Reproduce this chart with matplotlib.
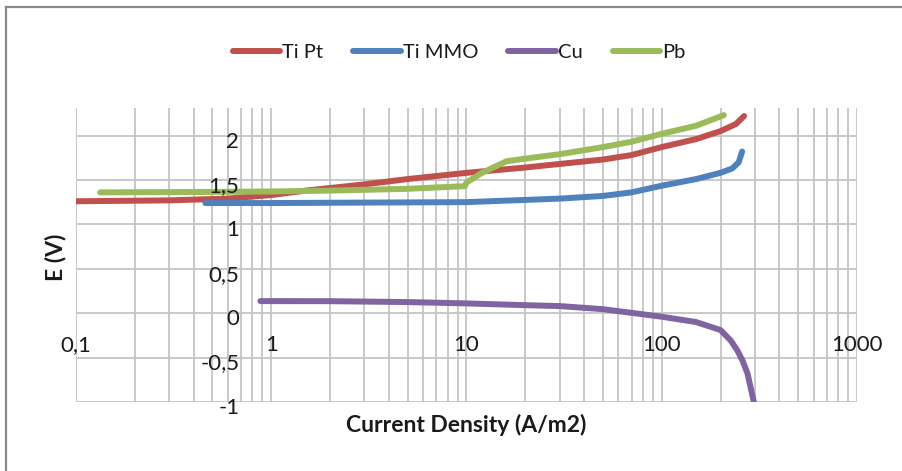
import matplotlib
matplotlib.use("Agg")
import matplotlib.pyplot as plt
from matplotlib.lines import Line2D
from matplotlib.transforms import ScaledTranslation
import numpy as np

plt.rcParams['font.family'] = ['Lato', 'DejaVu Sans']

# ---- data ----
tipt_x = [0.1, 0.3, 0.6, 1, 1.5, 3, 5, 10, 20, 30, 50, 70, 100, 150, 200, 240, 264]
tipt_y = [1.26, 1.27, 1.29, 1.33, 1.38, 1.45, 1.51, 1.58, 1.64, 1.68, 1.73, 1.78, 1.87, 1.96, 2.05, 2.13, 2.22]

timmo_x = [0.46, 1, 3, 10, 15, 20, 30, 50, 70, 100, 150, 200, 230, 248, 258]
timmo_y = [1.24, 1.24, 1.245, 1.25, 1.265, 1.275, 1.29, 1.32, 1.36, 1.435, 1.51, 1.58, 1.63, 1.70, 1.82]

cu_x = [0.88, 2, 5, 10, 20, 30, 50, 100, 150, 200, 226, 244, 260, 275, 295, 300]
cu_y = [0.136, 0.135, 0.125, 0.11, 0.09, 0.08, 0.045, -0.04, -0.10, -0.19, -0.31, -0.42, -0.54, -0.68, -0.98, -1.05]

pb_x = [0.133, 0.5, 1, 2, 5, 9.8, 10, 12, 16, 20, 30, 50, 70, 100, 150, 208]
pb_y = [1.36, 1.365, 1.37, 1.38, 1.40, 1.43, 1.47, 1.58, 1.71, 1.74, 1.79, 1.87, 1.93, 2.02, 2.11, 2.23]

series_names = ["Ti Pt", "Ti MMO", "Cu", "Pb"]
series_colors = ["#C0504D", "#4F81BD", "#8064A2", "#9BBB59"]

x_ticks = [0.1, 1, 10, 100, 1000]
x_tick_labels = ["0,1", "1", "10", "100", "1000"]
y_ticks = [-1, -0.5, 0, 0.5, 1, 1.5, 2]
y_tick_labels = ["-1", "-0,5", "0", "0,5", "1", "1,5", "2"]

# ---- figure ----
W, H = 903, 471
fig = plt.figure(figsize=(W / 100, H / 100), dpi=100)
L, R, T, B = 76, 857, 108, 402
ax = fig.add_axes([L / W, 1 - B / H, (R - L) / W, (B - T) / H])

ax.set_xscale('log')
ax.set_xlim(0.1, 1000)
ax.set_ylim(-1, 2.31)

ax.set_yticks(y_ticks)
ax.set_yticklabels(y_tick_labels)
ax.set_xticks(x_ticks)
ax.set_xticklabels(x_tick_labels)
minor_x = [m * d for d in [0.1, 1, 10, 100] for m in range(2, 10)]
ax.set_xticks(minor_x, minor=True)
ax.xaxis.set_minor_formatter(matplotlib.ticker.NullFormatter())

# gridlines behind the data, tick labels above it
grid_c = '#c4c4c4'
for xv in list(x_ticks) + minor_x:
    ax.axvline(xv, color=grid_c, lw=1.3, zorder=0)
for yv in y_ticks:
    ax.axhline(yv, color=grid_c, lw=1.3, zorder=0)

data = [(tipt_x, tipt_y), (timmo_x, timmo_y), (cu_x, cu_y), (pb_x, pb_y)]
for (xs, ys), name, c in zip(data, series_names, series_colors):
    ax.plot(xs, ys, color=c, lw=4.3, label=name, solid_capstyle='round',
            solid_joinstyle='round', zorder=2)

ax.set_axisbelow(False)
ax.xaxis.set_zorder(3)
ax.yaxis.set_zorder(3)

for s in ax.spines.values():
    s.set_visible(False)
ax.spines['bottom'].set_position(('data', 0))
ax.spines['left'].set_position(('data', 1))

ax.tick_params(axis='both', which='both', length=0, labelsize=16, colors='#1a1a1a')
ax.tick_params(axis='x', pad=16)
ax.tick_params(axis='y', pad=23)
for lbl in ax.get_yticklabels():
    lbl.set_transform(lbl.get_transform() + ScaledTranslation(0, -4 / 100, fig.dpi_scale_trans))

ax.set_xlabel("Current Density (A/m2)", fontsize=16.5, fontweight='bold', color='#1a1a1a')
ax.set_ylabel("E (V)", fontsize=16.5, fontweight='bold', color='#1a1a1a')
ax.xaxis.set_label_coords(0.5, -(425 - B) / (B - T))
ax.xaxis.label.set_va('center')
ax.yaxis.set_label_coords((55 - L) / (R - L), 0.5 + (255 - 257) / (B - T))
ax.yaxis.label.set_va('center')

leg = ax.legend(loc='center', bbox_to_anchor=(459 / W, 1 - 52 / H),
                bbox_transform=fig.transFigure, ncol=4, frameon=False,
                fontsize=14.5, handlelength=2.35, handletextpad=0.1,
                columnspacing=1.5)
for t in leg.get_texts():
    t.set_color('#1a1a1a')

# outer chart border (top and left visible)
bc = '#8a8a8a'
fig.add_artist(Line2D([5.5 / W, 5.5 / W], [0, 1 - 6.5 / H], transform=fig.transFigure, color=bc, lw=1.6))
fig.add_artist(Line2D([5.5 / W, 1], [1 - 6.5 / H, 1 - 6.5 / H], transform=fig.transFigure, color=bc, lw=1.6))

fig.savefig("out.png", dpi=100)
